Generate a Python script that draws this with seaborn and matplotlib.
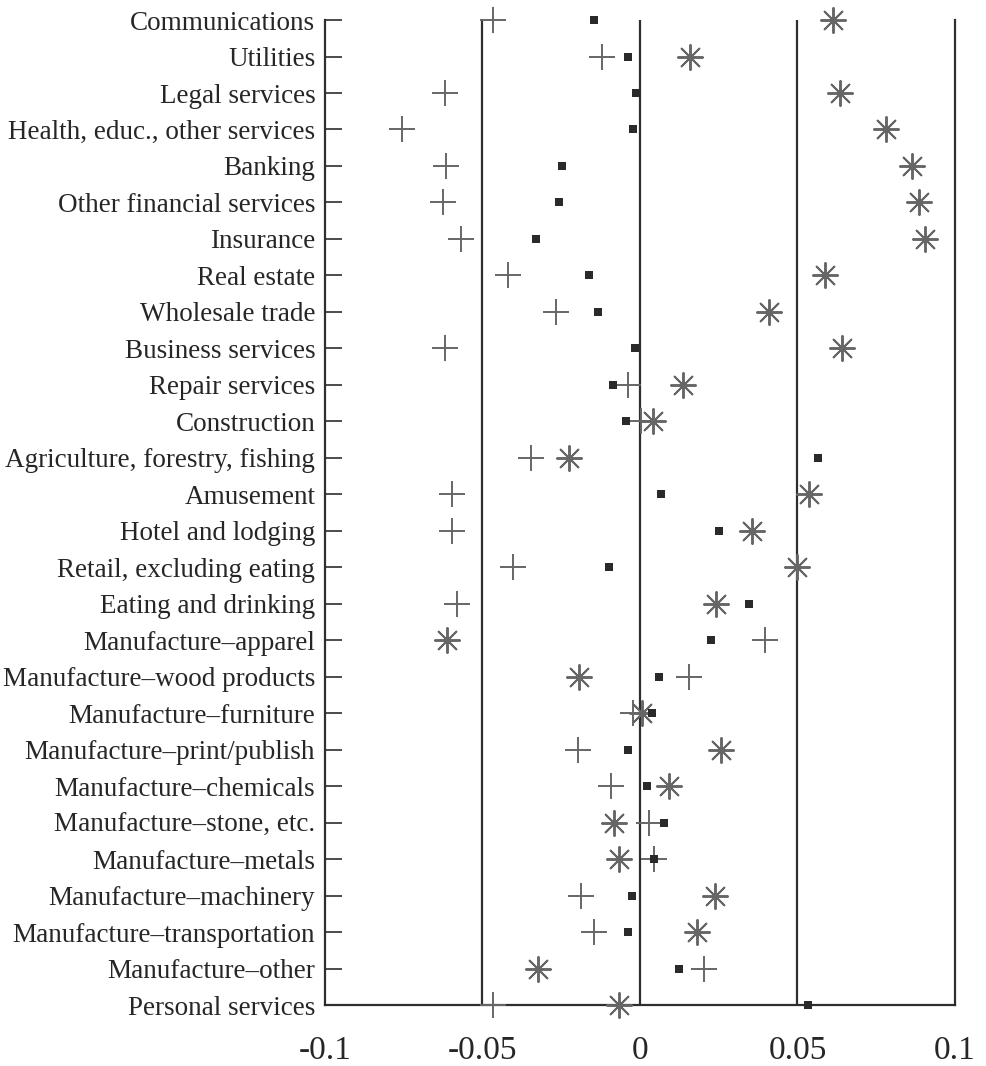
import numpy as np
import pandas as pd
import matplotlib
matplotlib.use("Agg")
import matplotlib.pyplot as plt
import seaborn as sns

categories = [
    "Communications", "Utilities", "Legal services",
    "Health, educ., other services", "Banking", "Other financial services",
    "Insurance", "Real estate", "Wholesale trade", "Business services",
    "Repair services", "Construction", "Agriculture, forestry, fishing",
    "Amusement", "Hotel and lodging", "Retail, excluding eating",
    "Eating and drinking", "Manufacture\u2013apparel",
    "Manufacture\u2013wood products", "Manufacture\u2013furniture",
    "Manufacture\u2013print/publish", "Manufacture\u2013chemicals",
    "Manufacture\u2013stone, etc.", "Manufacture\u2013metals",
    "Manufacture\u2013machinery", "Manufacture\u2013transportation",
    "Manufacture\u2013other", "Personal services",
]

# three series
plus_vals = [-0.0466, -0.0120, -0.0619, -0.0757, -0.0615, -0.0624, -0.0568,
             -0.0418, -0.0265, -0.0619, -0.0038, 0.0004, -0.0345, -0.0597,
             -0.0598, -0.0402, -0.0581, 0.0396, 0.0155, -0.0021, -0.0196,
             -0.0092, 0.0029, 0.0043, -0.0187, -0.0147, 0.0202, -0.0466]
square_vals = [-0.0147, -0.0039, -0.0013, -0.0021, -0.0246, -0.0257, -0.0331,
               -0.0161, -0.0133, -0.0015, -0.0086, -0.0045, 0.0566, 0.0068,
               0.0250, -0.0097, 0.0346, 0.0224, 0.0061, 0.0037, -0.0037,
               0.0021, 0.0076, 0.0045, -0.0024, -0.0037, 0.0124, 0.0535]
star_vals = [0.0613, 0.0160, 0.0636, 0.0782, 0.0863, 0.0886, 0.0905,
             0.0587, 0.0409, 0.0640, 0.0137, 0.0042, -0.0224, 0.0536,
             0.0355, 0.0500, 0.0242, -0.0613, -0.0194, 0.0005, 0.0257,
             0.0093, -0.0083, -0.0067, 0.0238, 0.0180, -0.0324, -0.0066]

xticks = [-0.1, -0.05, 0, 0.05, 0.1]
xtick_labels = ["-0.1", "-0.05", "0", "0.05", "0.1"]

df = pd.DataFrame({"category": categories, "plus": plus_vals,
                   "square": square_vals, "star": star_vals})

sns.set_theme(style="white")
plt.rcParams["font.family"] = ["Liberation Serif", "DejaVu Serif"]

line_col = "#2e2e2e"
mark_col = "#666666"

fig = plt.figure(figsize=(9.86, 10.66), dpi=100)
ax = fig.add_axes([0.3296, 0.0572, 0.6389, 0.924])

for v in [-0.05, 0, 0.05]:
    ax.axvline(v, color=line_col, lw=1.6, zorder=1)

sns.stripplot(data=df, x="plus", y="category", order=categories, jitter=False,
              marker="+", size=19, color=mark_col, linewidth=1.4,
              ax=ax, clip_on=False, zorder=4)
sns.stripplot(data=df, x="star", y="category", order=categories, jitter=False,
              marker=(8, 2, 0), size=18, color=mark_col, linewidth=1.4,
              ax=ax, clip_on=False, zorder=4)
sns.stripplot(data=df, x="square", y="category", order=categories, jitter=False,
              marker="s", size=5.5, color="#2a2a2a", linewidth=0,
              ax=ax, clip_on=False, zorder=5)

ax.set_xlim(-0.1, 0.1)
ax.set_ylim(len(categories) - 1, 0)
ax.set_xticks(xticks)
ax.set_xticklabels(xtick_labels)
ax.set_xlabel("")
ax.set_ylabel("")

for side in ["left", "bottom", "right"]:
    ax.spines[side].set_visible(True)
    ax.spines[side].set_color(line_col)
    ax.spines[side].set_linewidth(1.6)
ax.spines["top"].set_visible(False)

ax.tick_params(axis="y", direction="in", length=12, width=1.2, color=line_col,
               pad=7, labelsize=19.5, labelcolor="#262626", left=True)
ax.tick_params(axis="x", length=0, pad=22, labelsize=24, labelcolor="#262626")

fig.savefig("out.png", dpi=100)
